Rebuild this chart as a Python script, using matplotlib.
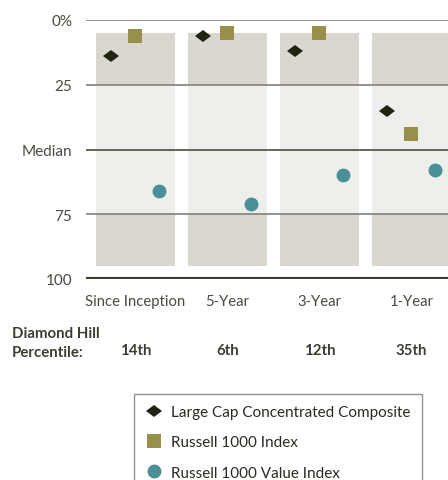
import matplotlib.pyplot as plt
import matplotlib.transforms as mtransforms
from matplotlib.markers import MarkerStyle
from matplotlib.lines import Line2D
import numpy as np

plt.rcParams['font.family'] = ['Lato', 'DejaVu Sans']

# data
periods = ["Since Inception", "5-Year", "3-Year", "1-Year"]
composite = [14, 6, 12, 35]          # Large Cap Concentrated Composite
russell_1000 = [6, 5, 5, 44]         # Russell 1000 Index
russell_value = [66, 71, 60, 58]     # Russell 1000 Value Index
percentile_labels = ["14th", "6th", "12th", "35th"]

panel_top, q1, q3, panel_bottom = 5, 25, 75, 95
ytick_vals = [0, 25, 50, 75, 100]
ytick_labels = ["0%", "25", "Median", "75", "100"]

# colours
dark_panel = "#dad7d1"
light_panel = "#eeeeea"
c_comp = "#1f2412"
c_r1000 = "#978f4b"
c_value = "#4a8e98"
text_c = "#4a4a42"

fig = plt.figure(figsize=(4.48, 4.81), dpi=100)
ax = fig.add_axes([86 / 448, 1 - 280 / 481, 1 - 86 / 448, 259 / 481])

x = np.arange(len(periods))
w = 0.86
ax.bar(x, q1 - panel_top, bottom=panel_top, width=w, color=dark_panel, zorder=1)
ax.bar(x, q3 - q1, bottom=q1, width=w, color=light_panel, zorder=1)
ax.bar(x, panel_bottom - q3, bottom=q3, width=w, color=dark_panel, zorder=1)

# horizontal reference lines
for v in [0, 25, 75]:
    ax.axhline(v, color="#8a8a82", lw=1.3, zorder=2)
ax.axhline(50, color="#3c3f2c", lw=1.1, zorder=2)
ax.axhline(100, color="#3c3f2c", lw=3, zorder=2)

diamond = MarkerStyle("D", transform=mtransforms.Affine2D().scale(1.0, 0.8))
ax.plot(x - 0.27, composite, ls="none", marker=diamond, ms=7.8, mew=0,
        color=c_comp, zorder=3)
ax.plot(x, russell_1000, ls="none", marker="s", ms=9.8, mew=0,
        color=c_r1000, zorder=3)
ax.plot(x + 0.255, russell_value, ls="none", marker="o", ms=10, mew=0,
        color=c_value, zorder=3)

ax.set_xlim(-0.538, 3.397)
ax.set_ylim(100, 0)
ax.set_yticks(ytick_vals)
ax.set_yticklabels(ytick_labels, fontsize=11, color=text_c)
ax.set_xticks(x)
ax.set_xticklabels(periods, fontsize=10.7, color=text_c)
ax.tick_params(axis="y", length=0, pad=10)
ax.tick_params(axis="x", length=0, pad=11)
for s in ax.spines.values():
    s.set_visible(False)

# percentile row
fig.text(12 / 448, 1 - 334 / 481, "Diamond Hill", fontsize=10.8, fontweight="bold",
         color="#3d3d33", va="center", ha="left")
fig.text(12 / 448, 1 - 353 / 481, "Percentile:", fontsize=10.8, fontweight="bold",
         color="#3d3d33", va="center", ha="left")
for i, lab in enumerate(percentile_labels):
    ax.text(x[i], -0.274, lab, transform=ax.get_xaxis_transform(), fontsize=10.8,
            fontweight="bold", color="#3d3d33", ha="center", va="center")

handles = [
    Line2D([], [], ls="none", marker=diamond, ms=7.8, mew=0, color=c_comp),
    Line2D([], [], ls="none", marker="s", ms=9.8, mew=0, color=c_r1000),
    Line2D([], [], ls="none", marker="o", ms=10, mew=0, color=c_value),
]
leg = fig.legend(handles, ["Large Cap Concentrated Composite", "Russell 1000 Index",
                           "Russell 1000 Value Index"],
                 loc="upper left", bbox_to_anchor=(134 / 448, 1 - 395 / 481),
                 bbox_transform=fig.transFigure, borderaxespad=0, fontsize=11,
                 frameon=True, fancybox=False, edgecolor="#777777",
                 handlelength=1.1, handletextpad=0.6, borderpad=0.75, labelspacing=1.05)
leg.get_frame().set_linewidth(1.0)
for t in leg.get_texts():
    t.set_color("#2a2a22")

fig.savefig("out.png", dpi=100)
